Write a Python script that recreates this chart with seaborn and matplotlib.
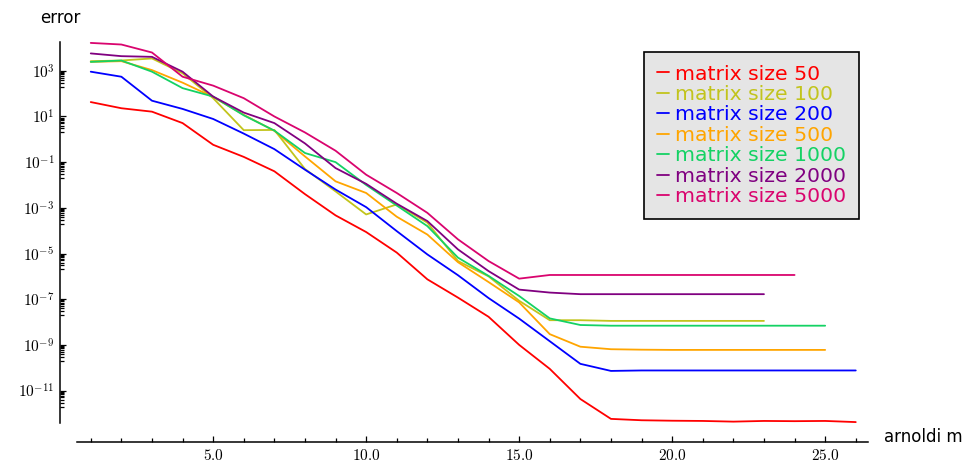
import numpy as np
import pandas as pd
import matplotlib
matplotlib.use("Agg")
import matplotlib.pyplot as plt
import matplotlib.ticker as mticker
from matplotlib.lines import Line2D
import seaborn as sns

# log10 of the error, one list per matrix size
sizes = ["50", "100", "200", "500", "1000", "2000", "5000"]
colors = ["#ff0000", "#c2c41c", "#0000ff", "#ffa500", "#14d264", "#800080", "#d9046e"]

log_err_50 = [1.63, 1.36, 1.21, 0.71, -0.24, -0.77, -1.40, -2.40, -3.33, -4.06,
              -4.96, -6.13, -6.93, -7.77, -9.00, -10.05, -11.37, -12.24, -12.30,
              -12.32, -12.33, -12.36, -12.33, -12.34, -12.33, -12.38]
log_err_100 = [3.42, 3.45, 3.54, 2.89, 1.80, 0.40, 0.41, -1.30, -2.28, -3.29,
               -2.85, -3.65, -5.33, -6.00, -7.07, -7.92, -7.92, -7.95, -7.95,
               -7.95, -7.95, -7.95, -7.95]
log_err_200 = [2.96, 2.74, 1.69, 1.33, 0.89, 0.25, -0.43, -1.33, -2.20, -2.97,
               -4.02, -5.04, -5.95, -6.95, -7.85, -8.84, -9.83, -10.14, -10.12,
               -10.12, -10.12, -10.12, -10.12, -10.12, -10.12, -10.12]
log_err_500 = [3.39, 3.42, 3.03, 2.48, 1.85, 1.07, 0.37, -0.75, -1.84, -2.35,
               -3.39, -4.17, -5.38, -6.25, -7.14, -8.53, -9.08, -9.19, -9.21,
               -9.22, -9.22, -9.22, -9.22, -9.22, -9.22]
log_err_1000 = [3.39, 3.45, 2.96, 2.24, 1.87, 1.05, 0.38, -0.60, -1.00, -2.00,
                -2.90, -3.80, -5.18, -5.98, -6.86, -7.84, -8.13, -8.16, -8.16,
                -8.16, -8.16, -8.16, -8.16, -8.16, -8.16]
log_err_2000 = [3.76, 3.64, 3.61, 2.96, 1.87, 1.17, 0.71, -0.18, -1.26, -1.95,
                -2.82, -3.58, -4.82, -5.77, -6.58, -6.71, -6.78, -6.78, -6.78,
                -6.78, -6.78, -6.78, -6.78]
log_err_5000 = [4.22, 4.15, 3.80, 2.74, 2.35, 1.80, 1.00, 0.30, -0.50, -1.55,
                -2.35, -3.22, -4.38, -5.33, -6.10, -5.94, -5.94, -5.94, -5.94,
                -5.94, -5.94, -5.94, -5.94, -5.94]

series = [log_err_50, log_err_100, log_err_200, log_err_500,
          log_err_1000, log_err_2000, log_err_5000]

frames = []
for size, vals in zip(sizes, series):
    frames.append(pd.DataFrame({"m": np.arange(1, len(vals) + 1),
                                "error": 10.0 ** np.array(vals),
                                "size": size}))
df = pd.concat(frames, ignore_index=True)

sns.set_style("white")
plt.rcParams["font.family"] = ["DejaVu Sans"]
plt.rcParams["mathtext.fontset"] = "cm"
plt.rcParams["text.color"] = "black"

fig = plt.figure(figsize=(9.66, 4.61), dpi=100)
ax = fig.add_axes([77 / 966, 1 - 423 / 461, 791 / 966, 381 / 461])

sns.lineplot(data=df, x="m", y="error", hue="size", hue_order=sizes,
             palette=colors, estimator=None, linewidth=1.3, legend=False, ax=ax)
ax.set_yscale("log")
ax.set_xlim(0.55, 26.4)
ax.set_ylim(10 ** -12.42, 10 ** 4.26)

# axes look: only left/bottom, pushed out from the data area
for side in ["top", "right"]:
    ax.spines[side].set_visible(False)
ax.spines["left"].set_position(("outward", 12.2))
ax.spines["bottom"].set_position(("outward", 13.7))
for side in ["left", "bottom"]:
    ax.spines[side].set_linewidth(1.1)
    ax.spines[side].set_color("black")

ax.xaxis.set_major_locator(mticker.MultipleLocator(5))
ax.xaxis.set_minor_locator(mticker.MultipleLocator(1))
ax.xaxis.set_major_formatter(mticker.FuncFormatter(lambda v, p: f"${v:.1f}$"))

ax.yaxis.set_major_locator(mticker.FixedLocator([10.0 ** e for e in range(-11, 5, 2)]))
ax.yaxis.set_minor_locator(mticker.FixedLocator(
    [s * 10.0 ** e for e in range(-12, 4, 2) for s in range(2, 10)]))
ax.yaxis.set_major_formatter(mticker.FuncFormatter(
    lambda v, p: f"$10^{{{int(round(np.log10(v)))}}}$"))
ax.yaxis.set_minor_formatter(mticker.NullFormatter())

ax.tick_params(which="both", direction="in", labelsize=11, width=0.9,
               left=True, bottom=True, color="black", labelcolor="black")
ax.tick_params(which="major", length=4.5)
ax.tick_params(which="minor", length=2.8)
ax.tick_params(axis="x", pad=4)
ax.tick_params(axis="y", pad=4)
ax.set_xlabel("")
ax.set_ylabel("")

fig.text(40 / 966, 1 - 18 / 461, "error", fontsize=12, ha="left", va="center")
fig.text(884 / 966, 1 - 437 / 461, "arnoldi m", fontsize=12, ha="left", va="center")

handles = [Line2D([0], [0], color=c, lw=1.3) for c in colors]
labels = [f"matrix size {s}" for s in sizes]
leg = ax.legend(handles, labels, loc="upper right", bbox_to_anchor=(0.9886, 0.974),
                borderaxespad=0, fontsize=14.7, labelspacing=0.07, handlelength=0.6,
                handletextpad=0.3, borderpad=0.62, fancybox=False, framealpha=1,
                facecolor="#e5e5e5", edgecolor="black")
leg.get_frame().set_linewidth(1.2)
for txt, c in zip(leg.get_texts(), colors):
    txt.set_color(c)

fig.savefig("out.png", dpi=100)
